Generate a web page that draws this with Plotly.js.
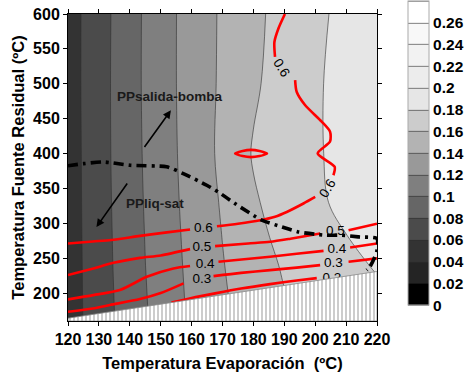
<!DOCTYPE html>
<html>
<head>
<meta charset="utf-8">
<script src="https://cdn.plot.ly/plotly-3.0.1.min.js"></script>
<style>
  html, body { margin: 0; padding: 0; background: #fff; }
  #grafico { width: 465px; height: 372px; }
</style>
</head>
<body>
<div id="grafico"></div>
<script>
// Rejilla del mapa: temperatura de evaporación (ºC) y de la fuente residual (ºC)
const tempEvap = [120, 130, 140, 150, 160, 170, 180, 190, 200, 210, 220];
const tempFuente = [160, 200, 240, 280, 330, 400, 500, 600];

// Valores del mapa en escala de grises, una fila por temperatura de fuente
const fila160 = [0.0506, 0.0702, 0.0893, 0.1071, 0.1231, 0.1369, 0.1472, 0.1563, 0.1629, 0.1678, 0.1727];
const fila200 = [0.0506, 0.0706, 0.0901, 0.1079, 0.1238, 0.1380, 0.1490, 0.1595, 0.1654, 0.1710, 0.1766];
const fila240 = [0.0506, 0.0710, 0.0909, 0.1088, 0.1246, 0.1391, 0.1515, 0.1619, 0.1684, 0.1748, 0.1818];
const fila280 = [0.0507, 0.0713, 0.0914, 0.1094, 0.1255, 0.1403, 0.1548, 0.1647, 0.1721, 0.1794, 0.1883];
const fila330 = [0.0508, 0.0717, 0.0920, 0.1102, 0.1265, 0.1419, 0.1579, 0.1675, 0.1762, 0.1850, 0.1940];
const fila400 = [0.0509, 0.0720, 0.0927, 0.1110, 0.1276, 0.1442, 0.1614, 0.1695, 0.1776, 0.1863, 0.1950];
const fila500 = [0.0513, 0.0721, 0.0931, 0.1117, 0.1280, 0.1431, 0.1574, 0.1679, 0.1775, 0.1867, 0.1957];
const fila600 = [0.0514, 0.0718, 0.0929, 0.1117, 0.1279, 0.1427, 0.1558, 0.1664, 0.1759, 0.1851, 0.1941];

// Colores de los intervalos de la barra (0-0.02, 0.02-0.04, ..., 0.26-0.28)
const coloresIntervalo = ['#000000', '#242424', '#333333', '#4b4b4b', '#666666', '#7f7f7f', '#999999',
                          '#b3b3b3', '#cccccc', '#e6e6e6', '#ececec', '#f2f2f2', '#f8f8f8', '#ffffff'];
const marcasBarra = [0, 0.02, 0.04, 0.06, 0.08, 0.1, 0.12, 0.14, 0.16, 0.18, 0.2, 0.22, 0.24, 0.26];
const textosBarra = ['0', '0.02', '0.04', '0.06', '0.08', '0.1', '0.12', '0.14', '0.16', '0.18', '0.2', '0.22', '0.24', '0.26'];

// Isolíneas rojas (null = hueco para la etiqueta)
const iso06x = [120, 128, 134, 143.3, 152, 159.5, null, 168.2, 175, 182.2, 187, 190.8, 196.2, 200, null,
                205.9, 206.3, 200.8, 204.8, 204.8, 202.1, 196.7, 194.0, 193.5, null, 187.0, 186.8, 188.1, 190.2];
const iso06y = [271, 274, 276, 282, 287, 291.2, null, 295.9, 299.5, 304.5, 309.5, 316.3, 328.4, 337.8, null,
                368.9, 381, 400.3, 417.1, 431.4, 445.7, 469.5, 488.5, 505.2, null, 538.5, 559.9, 579.2, 600];
const iso05x = [120, 128.2, 134.7, 143.3, 150, 159.5, null, 167.6, 178.3, 185.4, 192, 201.6, null, 210.8, 220];
const iso05y = [225.8, 235.3, 243.4, 250.5, 254, 263, null, 267.3, 271.1, 273.5, 278, 285.4, null, 290.2, 299.5];
const iso04x = [120, 128.2, 136.8, 145.5, 154.1, 159.5, null, 168.7, 177, 185.4, 194, 202.7, null, 211.3, 220];
const iso04y = [191, 197.1, 204.3, 223.3, 235.3, 238.8, null, 244.8, 248.5, 252, 256.5, 260.5, null, 265.4, 271];
const iso03x = [120, 128, 133.6, 143.3, 150, 157.4, null, 167.1, 176, 185.4, 194, 201.6, null, 210.8, 220];
const iso03y = [173.2, 178, 183, 191.4, 200, 213.9, null, 224.3, 229, 232.9, 236.5, 240.1, null, 244.8, 249.7];
const iso02x = [153.5, 160, 167.6, 176, 185.4, 194, 200.5];
const iso02y = [186.5, 193, 199.6, 206.5, 212.9, 218, 221.5];
const isla06x = [174.1, 176.5, 179.2, 182, 184.4, 182, 179.2, 176.5, 174.1];
const isla06y = [400, 403.6, 405.2, 403.6, 400, 396.4, 394.8, 396.4, 400];

// Etiquetas horizontales de las isolíneas
const etiquetaTexto = ['0.6', '0.5', '0.4', '0.3', '0.5', '0.4', '0.3'];
const etiquetaX = [163.8, 163.3, 164.4, 163.3, 206.5, 207.0, 205.9];
const etiquetaY = [292.6, 264.8, 241.1, 218.6, 288.2, 263.0, 241.8];
// Etiqueta 0.2, tapada en parte por la zona rayada
const etiqueta02 = ['0.2'];
const etiqueta02X = [205.4];
const etiqueta02Y = [220.6];

// Línea de punto de pinzamiento (trazo y punto)
const pinchX = [120, 125, 131.4, 140.1, 151.9, 157.3, 164.9, 168.6, 174, 182.7, 189.2, 194.5, 203.2, 208.6, 213.9, 220, 219.9, 217.7, 216.7];
const pinchY = [382.5, 385.5, 388, 383.2, 381, 371.3, 354.6, 345, 328.4, 304.5, 294.9, 287.7, 283, 283, 280.6, 278, 259, 237.6, 233];

// Zona no válida (rayada)
const zonaX = [120, 220, 220, 120, 120];
const zonaY = [164, 231, 160, 160, 164];

const fuente = 'Arial, "Liberation Sans", sans-serif';

// Escala de colores escalonada a partir de los colores de intervalo
const escala = [];
coloresIntervalo.forEach(function (c, k) {
  escala.push([k / coloresIntervalo.length, c]);
  escala.push([(k + 1) / coloresIntervalo.length, c]);
});

const mapa = {
  type: 'contour',
  x: tempEvap,
  y: tempFuente,
  z: [fila160, fila200, fila240, fila280, fila330, fila400, fila500, fila600],
  autocontour: false,
  contours: { start: 0, end: 0.28, size: 0.02, coloring: 'fill', showlines: true },
  zmin: 0, zmax: 0.28, zauto: false,
  colorscale: escala,
  line: { color: 'rgba(45,45,45,0.85)', width: 0.7, smoothing: 1 },
  hoverinfo: 'skip',
  colorbar: {
    x: 1.1003, xanchor: 'left', xpad: 0,
    y: 0.547, yanchor: 'middle', ypad: 0,
    len: 304, lenmode: 'pixels',
    thickness: 21,
    outlinecolor: '#aaaaaa', outlinewidth: 1,
    tickmode: 'array', tickvals: marcasBarra, ticktext: textosBarra,
    ticks: '',
    tickfont: { family: fuente, size: 15.5, color: '#000', weight: 'bold' }
  }
};

function isolinea(x, y) {
  return {
    type: 'scatter', mode: 'lines', x: x, y: y,
    line: { color: '#ff0000', width: 2.6, shape: 'spline', smoothing: 0.7 },
    connectgaps: false, hoverinfo: 'skip', showlegend: false
  };
}

const trazas = [
  mapa,
  isolinea(iso06x, iso06y),
  isolinea(iso05x, iso05y),
  isolinea(iso04x, iso04y),
  isolinea(iso03x, iso03y),
  isolinea(iso02x, iso02y),
  isolinea(isla06x, isla06y),
  {
    type: 'scatter', mode: 'text', x: etiquetaX, y: etiquetaY, text: etiquetaTexto,
    textfont: { family: fuente, size: 13.5, color: '#000' },
    hoverinfo: 'skip', showlegend: false
  },
  {
    type: 'scatter', mode: 'text', x: etiqueta02X, y: etiqueta02Y, text: etiqueta02,
    textfont: { family: fuente, size: 13.5, color: '#000' },
    hoverinfo: 'skip', showlegend: false
  },
  {
    type: 'scatter', mode: 'lines', x: pinchX, y: pinchY,
    line: { color: '#000', width: 3.6, dash: '10px,5px,3px,5px', shape: 'spline', smoothing: 0.6 },
    hoverinfo: 'skip', showlegend: false
  },
  {
    type: 'scatter', mode: 'lines', x: zonaX, y: zonaY, fill: 'toself',
    fillcolor: '#ffffff',
    fillpattern: { shape: '|', size: 4, solidity: 0.25, fgcolor: '#9a9a9a', bgcolor: '#ffffff' },
    line: { color: '#8a8a8a', width: 0.8 },
    hoverinfo: 'skip', showlegend: false
  }
];

const ejeComun = {
  showgrid: false, zeroline: false,
  showline: true, linecolor: '#000', linewidth: 1, mirror: 'ticks',
  ticks: 'outside', ticklen: 4, tickcolor: '#000',
  tickfont: { family: fuente, size: 16, color: '#000', weight: 'bold' }
};

const layout = {
  width: 465, height: 372,
  margin: { l: 68, r: 88, t: 14, b: 51, autoexpand: false },
  paper_bgcolor: '#fff', plot_bgcolor: '#fff',
  showlegend: false,
  xaxis: Object.assign({}, ejeComun, {
    range: [120, 220], tick0: 120, dtick: 10,
    title: { text: 'Temperatura Evaporación  (ºC)', standoff: 18,
             font: { family: fuente, size: 16.5, color: '#000', weight: 'bold' } }
  }),
  yaxis: Object.assign({}, ejeComun, {
    range: [160, 600], tick0: 200, dtick: 50,
    title: { text: 'Temperatura Fuente Residual (ºC)', standoff: 4,
             font: { family: fuente, size: 16.5, color: '#000', weight: 'bold' } }
  }),
  annotations: [
    { x: 203.9, y: 350.2, xref: 'x', yref: 'y', text: '0.6', showarrow: false, textangle: -58,
      font: { family: fuente, size: 13.5, color: '#000' } },
    { x: 189.0, y: 523.0, xref: 'x', yref: 'y', text: '0.6', showarrow: false, textangle: 58,
      font: { family: fuente, size: 13.5, color: '#000' } },
    { x: 152.9, y: 481.9, xref: 'x', yref: 'y', text: 'PPsalida-bomba', showarrow: false,
      font: { family: fuente, size: 13.5, color: '#1a1a1a', weight: 'bold' } },
    { x: 148.2, y: 328.8, xref: 'x', yref: 'y', text: 'PPliq-sat', showarrow: false,
      font: { family: fuente, size: 13.5, color: '#1a1a1a', weight: 'bold' } },
    { x: 153.3, y: 461.9, ax: 144.4, ay: 407.1, xref: 'x', yref: 'y', axref: 'x', ayref: 'y',
      text: '', showarrow: true, arrowhead: 2, arrowsize: 1, arrowwidth: 1.6, arrowcolor: '#000', standoff: 0 },
    { x: 129.2, y: 294.6, ax: 139.5, ay: 359.3, xref: 'x', yref: 'y', axref: 'x', ayref: 'y',
      text: '', showarrow: true, arrowhead: 2, arrowsize: 1, arrowwidth: 1.6, arrowcolor: '#000', standoff: 0 }
  ]
};

Plotly.newPlot('grafico', trazas, layout, { staticPlot: true, displayModeBar: false });
</script>
</body>
</html>
